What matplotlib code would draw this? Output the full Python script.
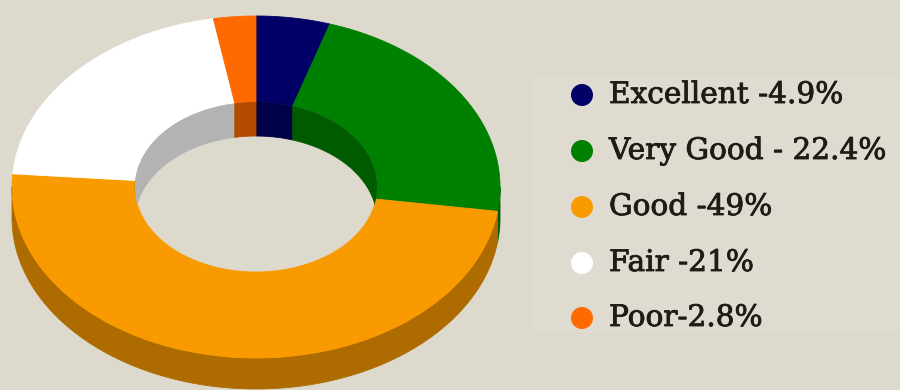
import numpy as np
import matplotlib.pyplot as plt
import matplotlib.patheffects as pe
from matplotlib.patches import Polygon, Ellipse, Rectangle, Circle

# ratings and their share of responses (%)
labels = ["Excellent -4.9%", "Very Good - 22.4%", "Good -49%", "Fair -21%", "Poor-2.8%"]
shares = [4.9, 22.4, 49, 21, 2.8]
colors = ["#000066", "#008000", "#f89a00", "#ffffff", "#ff6a00"]

bg = "#ddd9cc"

# donut geometry in pixel units (y grows downward)
cx, cy = 256, 187
a, b = 244, 171
depth = 31
inner = 0.497


def darker(c, f=0.7):
    r, g, bl = [int(c[i:i + 2], 16) / 255 for i in (1, 3, 5)]
    return (r * f, g * f, bl * f)


def arc(t1, t2, scale, dy=0, n=120):
    t = np.radians(np.linspace(t1, t2, n))
    return np.column_stack([cx + a * scale * np.sin(t), cy - b * scale * np.cos(t) + dy])


def overlap(t1, t2, lo, hi):
    s, e = max(t1, lo), min(t2, hi)
    return (s, e) if e > s else None


fig = plt.figure(figsize=(9, 3.9), dpi=100)
fig.patch.set_facecolor(bg)
ax = fig.add_axes([0, 0, 1, 1])
ax.set_xlim(0, 900)
ax.set_ylim(390, 0)
ax.axis("off")

fr = np.array(shares) / sum(shares)
edges = np.concatenate([[0], np.cumsum(fr) * 360])

# outer side wall (front half)
for i, col in enumerate(colors):
    ov = overlap(edges[i], edges[i + 1], 90, 270)
    if ov:
        pts = np.vstack([arc(ov[0], ov[1], 1), arc(ov[1], ov[0], 1, depth)])
        ax.add_patch(Polygon(pts, closed=True, fc=darker(col), ec=darker(col), lw=0.6))

# top face of each slice
for i, col in enumerate(colors):
    pts = np.vstack([arc(edges[i], edges[i + 1], 1), arc(edges[i + 1], edges[i], inner)])
    ax.add_patch(Polygon(pts, closed=True, fc=col, ec=col, lw=0.6))

# inner wall seen through the hole (back half)
hole = Ellipse((cx, cy), 2 * a * inner, 2 * b * inner, fc="none", ec="none")
ax.add_patch(hole)
for i, col in enumerate(colors):
    for lo, hi in ((0, 90), (270, 360)):
        ov = overlap(edges[i], edges[i + 1], lo, hi)
        if ov:
            pts = np.vstack([arc(ov[0], ov[1], inner), arc(ov[1], ov[0], inner, depth + 3)])
            p = Polygon(pts, closed=True, fc=darker(col), ec=darker(col), lw=0.6)
            ax.add_patch(p)
            p.set_clip_path(hole)

# legend panel
ax.add_patch(Rectangle((532, 75), 368, 258, fc="#e0dbd0", ec="none"))
row_y = [95, 151, 207, 263, 318]
for lab, col, y in zip(labels, colors, row_y):
    ax.add_patch(Circle((582, y), 11, fc=col, ec="none"))
    ax.text(609, y, lab, va="center", ha="left", fontsize=21.3,
            family="DejaVu Serif", color="#1f1b16",
            path_effects=[pe.withStroke(linewidth=0.6, foreground="#1f1b16")])

fig.savefig("out.png", dpi=100, facecolor=bg)
